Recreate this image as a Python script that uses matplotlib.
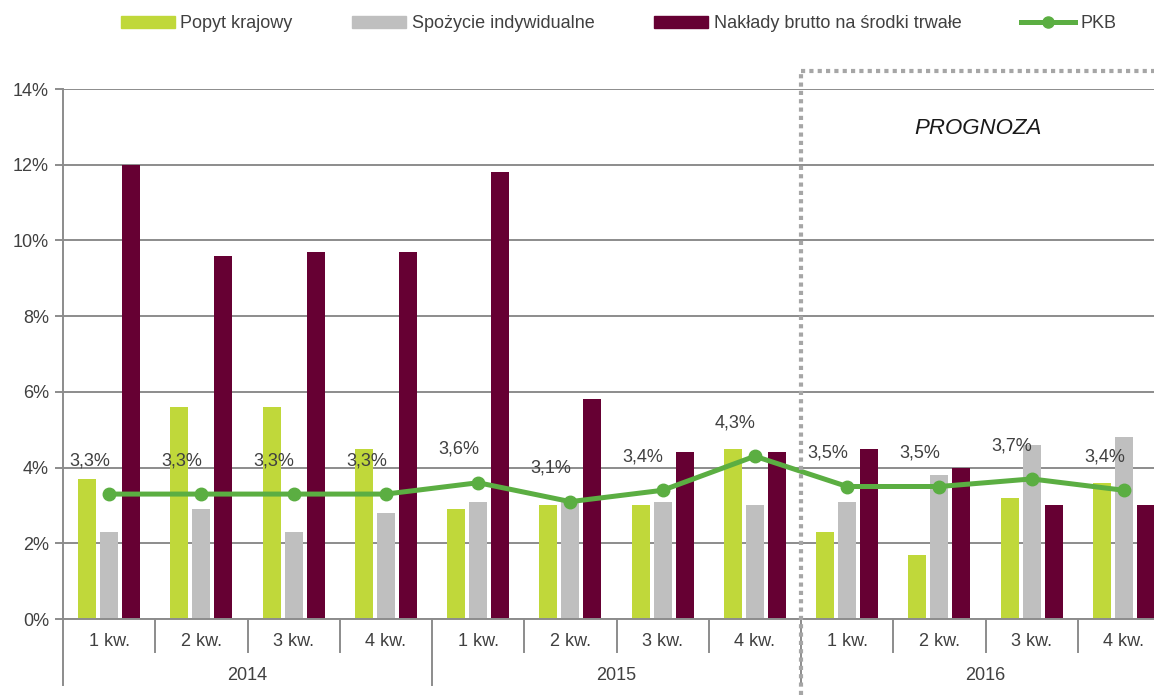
import matplotlib
matplotlib.use("Agg")
import matplotlib.pyplot as plt
import matplotlib.transforms as mtransforms
from matplotlib.patches import Patch
from matplotlib.lines import Line2D
import numpy as np

plt.rcParams["font.family"] = ["Liberation Sans", "DejaVu Sans"]
plt.rcParams["font.size"] = 13

# dane kwartalne, r/r w %
kwartaly = ["1 kw.", "2 kw.", "3 kw.", "4 kw."] * 3
lata = ["2014", "2015", "2016"]
popyt = [3.7, 5.6, 5.6, 4.5, 2.9, 3.0, 3.0, 4.5, 2.3, 1.7, 3.2, 3.6]
spozycie = [2.3, 2.9, 2.3, 2.8, 3.1, 3.1, 3.1, 3.0, 3.1, 3.8, 4.6, 4.8]
naklady = [12.0, 9.6, 9.7, 9.7, 11.8, 5.8, 4.4, 4.4, 4.5, 4.0, 3.0, 3.0]
pkb = [3.3, 3.3, 3.3, 3.3, 3.6, 3.1, 3.4, 4.3, 3.5, 3.5, 3.7, 3.4]
prognoza_od = 8  # indeks pierwszego kwartału prognozy

C_POPYT = "#C0D83A"
C_SPOZ = "#BFBFBF"
C_NAKL = "#660033"
C_PKB = "#5BAE42"
C_TXT = "#404040"
C_GRID = "#8C8C8C"

W, H = 1154, 695
fig = plt.figure(figsize=(W / 100, H / 100), dpi=100)
ax = fig.add_axes([63 / W, 1 - 619 / H, (1170 - 63) / W, (619 - 89) / H])

x = np.arange(len(kwartaly))
bw, off = 0.195, 0.238
ax.bar(x - off, popyt, bw, color=C_POPYT, zorder=2)
ax.bar(x, spozycie, bw, color=C_SPOZ, zorder=2)
ax.bar(x + off, naklady, bw, color=C_NAKL, zorder=2)
ax.plot(x, pkb, color=C_PKB, lw=3.6, marker="o", ms=9, zorder=3)

for xi, v in zip(x, pkb):
    ax.annotate(f"{v:.1f}%".replace(".", ","), (xi, v), xytext=(-14, 24),
                textcoords="offset points", ha="center", va="center",
                color=C_TXT, fontsize=13, zorder=4)

ax.set_xlim(-0.5, len(x) - 0.5)
ax.set_ylim(0, 14)
ax.set_yticks(range(0, 15, 2))
ax.set_yticklabels([f"{t}%" for t in range(0, 15, 2)])
ax.yaxis.grid(True, color=C_GRID, lw=1.4, zorder=0)
ax.set_axisbelow(True)
ax.tick_params(axis="y", length=6, width=1.4, color=C_GRID, labelcolor=C_TXT, pad=4)
ax.set_xticks([])
for s in ("top", "right"):
    ax.spines[s].set_visible(False)
for s in ("left", "bottom"):
    ax.spines[s].set_color(C_GRID)
    ax.spines[s].set_linewidth(1.4)

# dwupoziomowa oś kategorii
ax_h = (619 - 89)
trans = mtransforms.blended_transform_factory(ax.transData, ax.transAxes)
for b in np.arange(-0.5, len(x), 1.0):
    is_year = (b + 0.5) % 4 == 0
    depth = 66 if is_year else 33
    ax.plot([b, b], [0, -depth / ax_h], transform=trans, color=C_GRID, lw=1.4, clip_on=False)
for xi, lab in zip(x, kwartaly):
    ax.text(xi, -23 / ax_h, lab, transform=trans, ha="center", va="center", color=C_TXT)
for i, rok in enumerate(lata):
    ax.text(i * 4 + 1.5, -56 / ax_h, rok, transform=trans, ha="center", va="center", color=C_TXT)

# ramka okresu prognozy
tf = mtransforms.blended_transform_factory(ax.transData, fig.transFigure)
xb = prognoza_od - 0.5
ytop = 1 - 71 / H
fig.add_artist(Line2D([xb, xb], [0, ytop], transform=tf, color="#A6A6A6", lw=3,
                      linestyle=(0, (1, 1)), solid_capstyle="butt", dash_capstyle="butt"))
fig.add_artist(Line2D([xb, len(x) + 1], [ytop, ytop], transform=tf, color="#A6A6A6", lw=3,
                      linestyle=(0, (1, 1)), dash_capstyle="butt"))
ax.text(9.42, 12.95, "PROGNOZA", ha="center", va="center", style="italic",
        fontsize=16, color="#1A1A1A")

handles = [Patch(color=C_POPYT), Patch(color=C_SPOZ), Patch(color=C_NAKL),
           Line2D([], [], color=C_PKB, lw=3.6, marker="o", ms=8)]
labels = ["Popyt krajowy", "Spożycie indywidualne", "Nakłady brutto na środki trwałe", "PKB"]
fig.legend(handles, labels, loc="center", bbox_to_anchor=(0.536, 1 - 24 / H), ncol=4,
           frameon=False, handlelength=3.0, handleheight=0.6, handletextpad=0.3,
           columnspacing=3.3, labelcolor=C_TXT, fontsize=13)

fig.savefig("out.png", dpi=100)
